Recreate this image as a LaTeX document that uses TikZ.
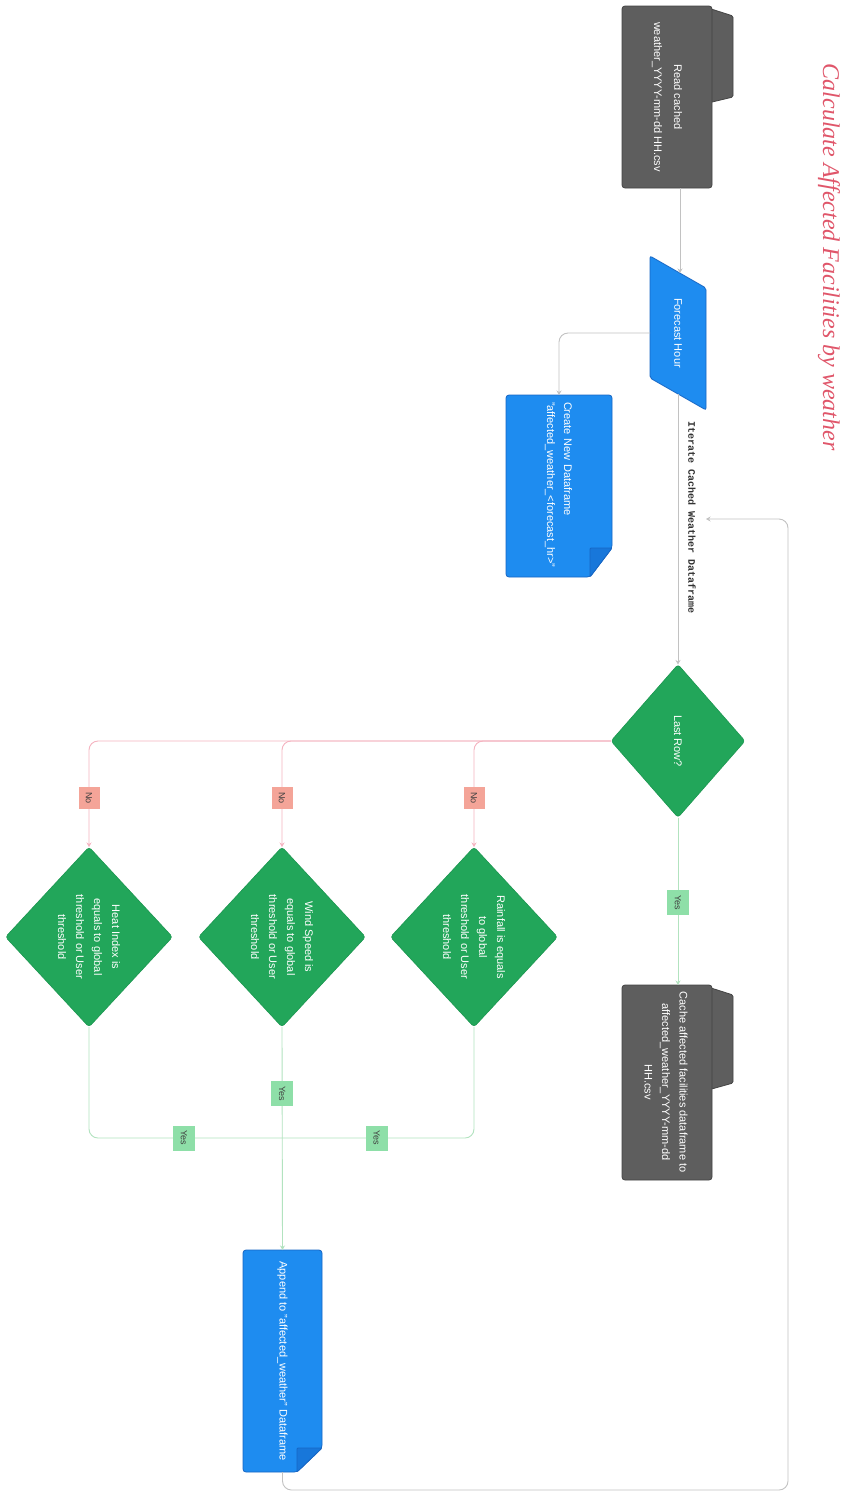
\documentclass[tikz,border=0pt]{standalone}
\usepackage{fontspec}
\setmainfont{Liberation Sans}
\newfontfamily\codefont{Liberation Mono}
\newfontfamily\headfont{Liberation Serif}
\usetikzlibrary{shapes.geometric,arrows.meta,calc}

\definecolor{boxgray}{HTML}{5E5E5E}
\definecolor{boxgrayedge}{HTML}{444444}
\definecolor{boxblue}{HTML}{1E8CF0}
\definecolor{boxblueedge}{HTML}{1766C4}
\definecolor{foldblue}{HTML}{1877DA}
\definecolor{boxgreen}{HTML}{22A65A}
\definecolor{boxgreenedge}{HTML}{1B9650}
\definecolor{lineGray}{HTML}{C2C2C2}
\definecolor{linePink}{HTML}{F5B3C0}
\definecolor{lineGreen}{HTML}{B2E3BF}
\definecolor{noFill}{HTML}{F4A498}
\definecolor{yesFill}{HTML}{8EDFA8}
\definecolor{headRed}{HTML}{E0566A}
\definecolor{codeText}{HTML}{333333}

\tikzset{
  frame/.style={inner sep=0pt, outer sep=0pt},
  graybox/.style={frame, draw=boxgrayedge, fill=boxgray, line width=0.8pt, rounded corners=3pt},
  graytab/.style={draw=boxgrayedge, fill=boxgray, line width=0.8pt, rounded corners=1.5pt},
  docshape/.style={draw=boxblueedge, fill=boxblue, line width=0.8pt, rounded corners=3pt},
  docfold/.style={draw=boxblueedge, fill=foldblue, line width=0.8pt, rounded corners=1pt},
  decision/.style={frame, diamond, draw=boxgreenedge, fill=boxgreen, line width=0.6pt, rounded corners=3pt},
  celltext/.style={frame, rotate=-90, text=white, align=center, font=\fontsize{11}{#1}\selectfont},
  celltext/.default=18,
  grayline/.style={draw=lineGray, line width=0.9pt, rounded corners=9pt},
  pinkline/.style={draw=linePink, line width=0.9pt, rounded corners=9pt},
  greenline/.style={draw=lineGreen, line width=0.9pt, rounded corners=9pt},
  tip/.style={-{Stealth[length=4.5pt,width=5pt]}},
  nolabel/.style={frame, sharp corners, rotate=-90, fill=noFill, minimum width=22pt, minimum height=21pt,
    text=black!75, font=\fontsize{9}{10}\selectfont},
  yeslabel/.style={frame, sharp corners, rotate=-90, fill=yesFill, minimum width=25pt, minimum height=22pt,
    text=black!75, font=\fontsize{9}{10}\selectfont},
  codelabel/.style={frame, rotate=-90, text=codeText, font=\codefont\bfseries\fontsize{10}{12}\selectfont},
}

\begin{document}
\begin{tikzpicture}[x=1pt,y=1pt]
\useasboundingbox (0,0) rectangle (841,-1494);
\fill[white] (0,0) rectangle (841,-1494);

% --- heading ---
\node[frame, rotate=-90, text=headRed, font=\headfont\itshape\fontsize{24}{26}\selectfont] (head) at (829,-257)
  {Calculate Affected Facilities by weather};

% --- read cached file ---
\filldraw[graytab] (708,-8) -- (733,-16) -- (733,-97) -- (708,-103) -- cycle;
\node[graybox, minimum width=90pt, minimum height=182pt] (rc) at (667,-97) {};
\node[celltext=20] (rct) at (rc.center) {Read cached\\weather\_YYYY-mm-dd HH.csv};

% --- forecast hour (input) ---
\node[frame, minimum width=56pt, minimum height=154pt] (fh) at (678,-333) {};
\filldraw[draw=boxblueedge, fill=boxblue, line width=0.8pt, rounded corners=2pt]
  (fh.north west) -- ($(fh.north east)+(0,-32)$) -- (fh.south east) -- ($(fh.south west)+(0,32)$) -- cycle;
\node[celltext] (fht) at (fh.center) {Forecast Hour};
\coordinate (fhin) at (680,-273);
\coordinate (fhout) at (678,-394);

% --- new dataframe ---
\node[frame, minimum width=106pt, minimum height=182pt] (cnd) at (559,-486) {};
\filldraw[docshape] (cnd.south west) -- (cnd.north west) -- (cnd.north east)
  -- ($(cnd.south east)+(0,29)$) -- ($(cnd.south east)+(-22,0)$) -- cycle;
\filldraw[docfold] ($(cnd.south east)+(-22,29)$) -- ($(cnd.south east)+(0,29)$)
  -- ($(cnd.south east)+(-22,0)$) -- cycle;
\node[celltext=17, text width=168pt, align=left] (cndt) at (558.5,-486)
  {Create New Dataframe\\"affected\_weather\_<forecast\_hr>"};

% --- last row decision ---
\node[decision, minimum width=134pt, minimum height=153pt] (lr) at (678,-741) {};
\node[celltext] (lrt) at (lr.center) {Last Row?};

% --- cache result ---
\filldraw[graytab] (708,-987) -- (733,-995) -- (733,-1083) -- (708,-1090) -- cycle;
\node[graybox, minimum width=90pt, minimum height=195pt] (cb) at (667,-1082.5) {};
\node[celltext=17.5] (cbt) at (666,-1082) {Cache affected facilities dataframe to\\affected\_weather\_YYYY-mm-dd\\HH.csv};

% --- threshold checks ---
\node[decision, minimum width=167pt, minimum height=180pt] (rf) at (474,-937) {};
\node[celltext] (rft) at (rf.center) {Rainfall is equals\\to global\\threshold or User\\threshold};
\node[decision, minimum width=167pt, minimum height=180pt] (ws) at (282,-937) {};
\node[celltext] (wst) at (ws.center) {Wind Speed is\\equals to global\\threshold or User\\threshold};
\node[decision, minimum width=167pt, minimum height=180pt] (hi) at (89,-937) {};
\node[celltext] (hit) at (hi.center) {Heat Index is\\equals to global\\threshold or User\\threshold};

% --- append row ---
\node[frame, minimum width=79pt, minimum height=222pt] (ap) at (282.5,-1361) {};
\filldraw[docshape] (ap.south west) -- (ap.north west) -- (ap.north east)
  -- ($(ap.south east)+(0,24)$) -- ($(ap.south east)+(-25,0)$) -- cycle;
\filldraw[docfold] ($(ap.south east)+(-25,24)$) -- ($(ap.south east)+(0,24)$)
  -- ($(ap.south east)+(-25,0)$) -- cycle;
\node[celltext] (apt) at (ap.center) {Append to "affected\_weather" Dataframe};

% --- connectors ---
\coordinate (mrg) at (282.5,-1138);
\coordinate (lpc) at (788,-1490);
\coordinate (loopend) at (706,-519);

\draw[grayline, tip] (rc.south -| fhin) -- (fhin);
\draw[grayline, tip] (fh.west) -| (cnd.north);
\draw[grayline, tip] (fhout) -- (lr.north);
\node[codelabel] (iter) at ($(fhout)!0.458!(lr.north)+(14,0)$) {Iterate Cached Weather Dataframe};

\draw[pinkline, tip] (lr.west) -| (rf.north) node[nolabel, pos=0.77] (no1) {No};
\draw[pinkline, tip] (lr.west) -| (ws.north) node[nolabel, pos=0.77] (no2) {No};
\draw[pinkline, tip] (lr.west) -| (hi.north) node[nolabel, pos=0.77] (no3) {No};

\draw[greenline, tip] (lr.south) -- (lr.south |- cb.north) node[yeslabel, pos=0.51] (yes0) {Yes};

\draw[greenline] (rf.south) |- (mrg) node[yeslabel, pos=0.754] (yes1) {Yes};
\draw[greenline] (hi.south) |- (mrg) node[yeslabel, pos=0.745] (yes3) {Yes};
\draw[greenline, tip] (ws.south) -- (ap.north) node[yeslabel, pos=0.3] (yes2) {Yes};

\draw[grayline, tip] (ap.south) |- (lpc) |- (loopend);
\end{tikzpicture}
\end{document}
